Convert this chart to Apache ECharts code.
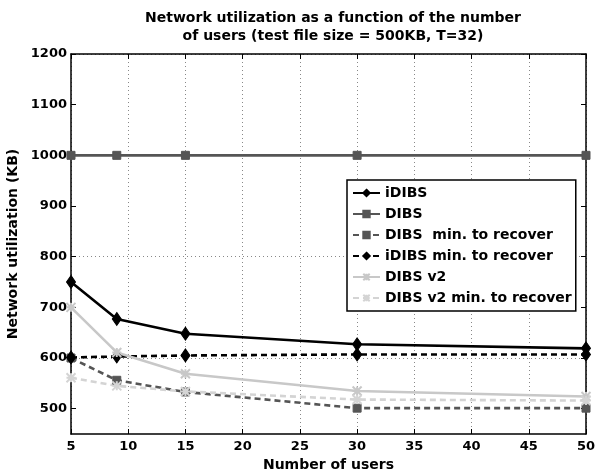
<!DOCTYPE html>
<html><head><meta charset="utf-8">
<script src="https://cdn.jsdelivr.net/npm/echarts@6/dist/echarts.min.js"></script>
<style>html,body{margin:0;padding:0;background:#fff}#c{width:596px;height:472px}</style>
</head><body><div id="c"></div>
<script>
const users = [5, 9, 15, 30, 50];
const iDIBS = [750, 677, 648, 627, 619];
const DIBS = [1000, 1000, 1000, 1000, 1000];
const DIBSMin = [600, 556, 533, 501, 501];
const iDIBSMin = [601, 603, 605, 607, 607];
const DIBSv2 = [700, 611, 569, 535, 524];
const DIBSv2Min = [561, 545, 534, 518, 516];
const xTicks = [5, 10, 15, 20, 25, 30, 35, 40, 45, 50];
const yTicks = [500, 600, 700, 800, 900, 1000, 1100, 1200];

const pair = v => users.map((u, i) => [u, v[i]]);
const xPath = 'path://M0,0L10,10M10,0L0,10M5,0L5,10M0,5L10,5';
const F = 'DejaVu Sans, sans-serif';

function s(name, data, color, type, symbol, size) {
  return {
    name, type: 'line', data: pair(data), symbol, symbolSize: size,
    lineStyle: { color, width: 2.6, type },
    itemStyle: { color, borderColor: color, borderWidth: symbol === xPath ? 2 : 1 },
    emphasis: { disabled: true }, z: 3
  };
}

const chart = echarts.init(document.getElementById('c'));
const axisLine = { show: true, onZero: false, lineStyle: { color: '#000', width: 1.5 } };
const tickStyle = { color: '#000', width: 1 };
const dotted = { color: '#888', type: [1, 3], width: 1 };
const labelStyle = { fontFamily: F, fontWeight: 'bold', fontSize: 13, color: '#000', formatter: v => String(v) };
chart.setOption({
  animation: false,
  title: {
    text: 'Network utilization as a function of the number\nof users (test file size = 500KB, T=32)',
    left: 328, top: 4, textAlign: 'center',
    textStyle: { fontFamily: F, fontWeight: 'bold', fontSize: 14, lineHeight: 18, color: '#000' }
  },
  grid: { left: 71, right: 10, top: 54, bottom: 38, containLabel: false, outerBoundsMode: 'none' },
  legend: {
    orient: 'vertical', left: 347, top: 180,
    backgroundColor: '#fff', borderColor: '#000', borderWidth: 1.5,
    padding: [4, 4, 4, 5], itemGap: 3, itemWidth: 27, itemHeight: 8,
    textStyle: { fontFamily: F, fontWeight: 'bold', fontSize: 14, lineHeight: 18, color: '#000' },
    data: ['iDIBS', 'DIBS', 'DIBS  min. to recover', 'iDIBS min. to recover', 'DIBS v2', 'DIBS v2 min. to recover']
  },
  xAxis: [
    {
      type: 'value', min: 5, max: 50, interval: 5,
      name: 'Number of users', nameLocation: 'middle', nameGap: 18,
      nameTextStyle: { fontFamily: F, fontWeight: 'bold', fontSize: 14, color: '#000' },
      axisLine, axisTick: { show: true, inside: true, length: 5, lineStyle: tickStyle },
      axisLabel: Object.assign({ margin: 6, customValues: xTicks }, labelStyle),
      splitLine: { show: true, lineStyle: dotted }
    },
    {
      type: 'value', min: 5, max: 50, interval: 5, position: 'top',
      axisLine, axisTick: { show: true, inside: true, length: 5, lineStyle: tickStyle },
      axisLabel: { show: false }, splitLine: { show: false }
    }
  ],
  yAxis: [
    {
      type: 'value', min: 450, max: 1200, interval: 50,
      name: 'Network utilization (KB)', nameLocation: 'middle', nameGap: 46, nameRotate: 90,
      nameTextStyle: { fontFamily: F, fontWeight: 'bold', fontSize: 14, color: '#000' },
      axisLine,
      axisTick: { show: true, inside: true, length: 5, lineStyle: tickStyle, customValues: yTicks },
      axisLabel: Object.assign({ margin: 4, customValues: yTicks }, labelStyle),
      splitLine: { show: true, lineStyle: Object.assign({}, dotted, { color: ['rgba(0,0,0,0)', '#888'] }) }
    },
    {
      type: 'value', min: 450, max: 1200, interval: 50, position: 'right',
      axisLine,
      axisTick: { show: true, inside: true, length: 5, lineStyle: tickStyle, customValues: yTicks },
      axisLabel: { show: false }, splitLine: { show: false }
    }
  ],
  series: [
    s('iDIBS', iDIBS, '#000', 'solid', 'diamond', [9, 13]),
    s('DIBS', DIBS, '#555', 'solid', 'rect', 8),
    s('DIBS  min. to recover', DIBSMin, '#555', [6, 4], 'rect', 8),
    s('iDIBS min. to recover', iDIBSMin, '#000', [6, 4], 'diamond', [9, 13]),
    s('DIBS v2', DIBSv2, '#c8c8c8', 'solid', xPath, 9),
    s('DIBS v2 min. to recover', DIBSv2Min, '#d4d4d4', [6, 4], xPath, 9)
  ]
});
</script></body></html>
